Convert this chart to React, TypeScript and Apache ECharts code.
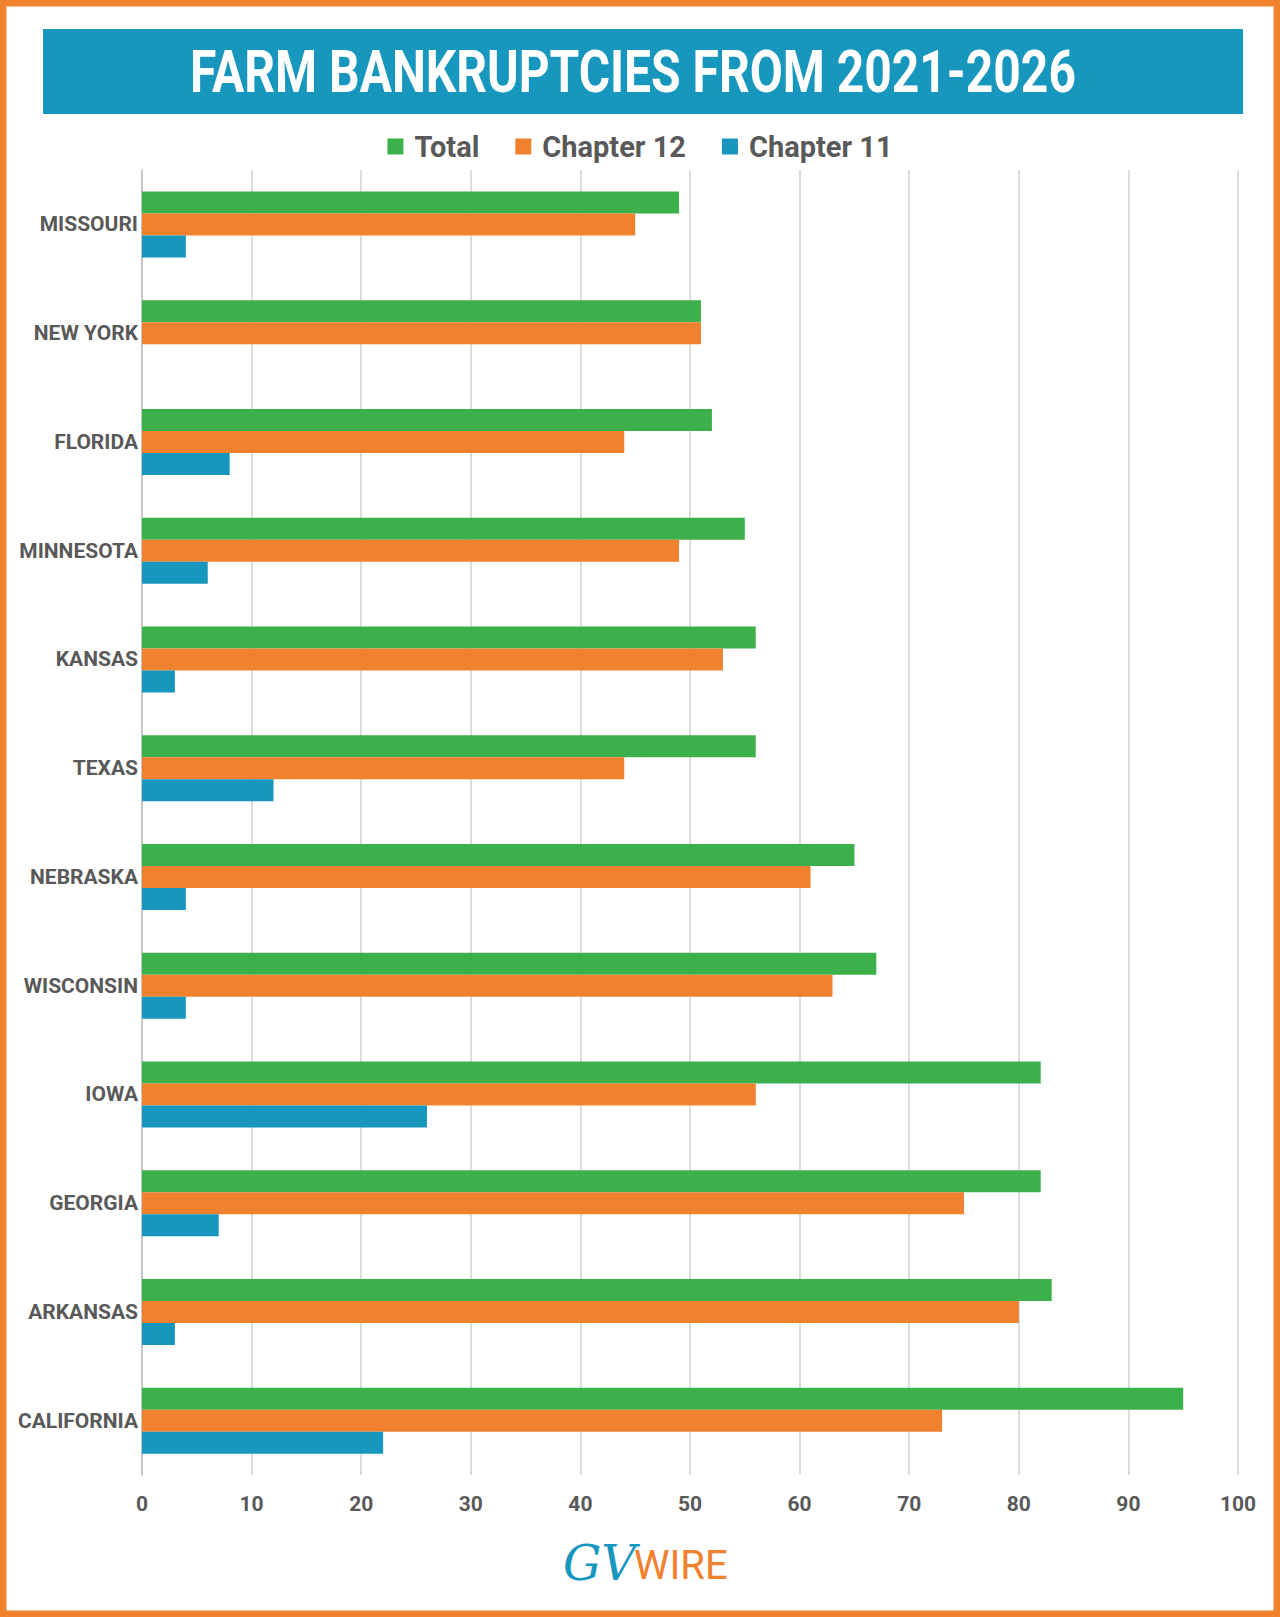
import React, { useEffect, useRef } from "react";
import * as echarts from "echarts";

const states = ["MISSOURI","NEW YORK","FLORIDA","MINNESOTA","KANSAS","TEXAS","NEBRASKA","WISCONSIN","IOWA","GEORGIA","ARKANSAS","CALIFORNIA"];
const total = [49,51,52,55,56,56,65,67,82,82,83,95];
const chapter12 = [45,51,44,49,53,44,61,63,56,75,80,73];
const chapter11 = [4,0,8,6,3,12,4,4,26,7,3,22];

const FONT = "'Roboto', sans-serif";

export default function App() {
  const ref = useRef<HTMLDivElement>(null);
  useEffect(() => {
    const chart = echarts.init(ref.current!, null, { renderer: "svg" });
    chart.setOption({
      animation: false,
      backgroundColor: "#fff",
      textStyle: { fontFamily: FONT },
      graphic: [
        { type: "rect", shape: { x: 3, y: 3, width: 1274, height: 1611 }, style: { fill: "none", stroke: "#f0812f", lineWidth: 7 } },
        { type: "rect", shape: { x: 43, y: 29, width: 1200, height: 85 }, style: { fill: "#1796be" } },
        { type: "text", x: 633, y: 72, scaleX: 0.8, style: { text: "FARM BANKRUPTCIES FROM 2021-2026", fill: "#fff", font: `bold 60px ${FONT}`, align: "center", verticalAlign: "middle", shadowColor: "rgba(0,0,0,0.6)", shadowBlur: 4, shadowOffsetX: 3, shadowOffsetY: 3 } },
        { type: "text", x: 636, y: 1563, style: { text: "GV", fill: "#1796be", font: `italic 48px 'DejaVu Serif', serif`, align: "right", verticalAlign: "middle" } },
        { type: "text", x: 634, y: 1565, style: { text: "WIRE", fill: "#f0812f", font: `40px 'Roboto', sans-serif`, align: "left", verticalAlign: "middle" } },
      ],
      legend: {
        top: 127, left: "center", itemWidth: 16, itemHeight: 16, itemGap: 36,
        icon: "rect",
        textStyle: { fontSize: 29, fontWeight: "bold", color: "#595959", fontFamily: FONT, padding: [0, 0, 0, 6] },
        data: ["Total", "Chapter 12", "Chapter 11"],
      },
      grid: { left: 142, right: 42, top: 170, bottom: 142 },
      xAxis: {
        type: "value", min: 0, max: 100, interval: 10,
        axisLabel: { fontSize: 21, fontWeight: "bold", color: "#595959", margin: 18, fontFamily: FONT },
        splitLine: { lineStyle: { color: "#d0d0d0", width: 1.5 } },
        axisLine: { show: false }, axisTick: { show: false },
      },
      yAxis: {
        type: "category", inverse: true, data: states,
        axisLabel: { fontSize: 21, fontWeight: "bold", color: "#595959", margin: 4, fontFamily: FONT },
        axisLine: { lineStyle: { color: "#bfbfbf", width: 1.5 } }, axisTick: { show: false },
      },
      series: [
        { name: "Total", type: "bar", data: total, barWidth: 22, barGap: "0%", itemStyle: { color: "#3cb04a" } },
        { name: "Chapter 12", type: "bar", data: chapter12, barWidth: 22, barGap: "0%", itemStyle: { color: "#f0812f" } },
        { name: "Chapter 11", type: "bar", data: chapter11, barWidth: 22, barGap: "0%", itemStyle: { color: "#1796be" } },
      ],
    });
    return () => chart.dispose();
  }, []);
  return <div ref={ref} style={{ position: "absolute", left: 0, top: 0, width: 1280, height: 1617 }} />;
}
